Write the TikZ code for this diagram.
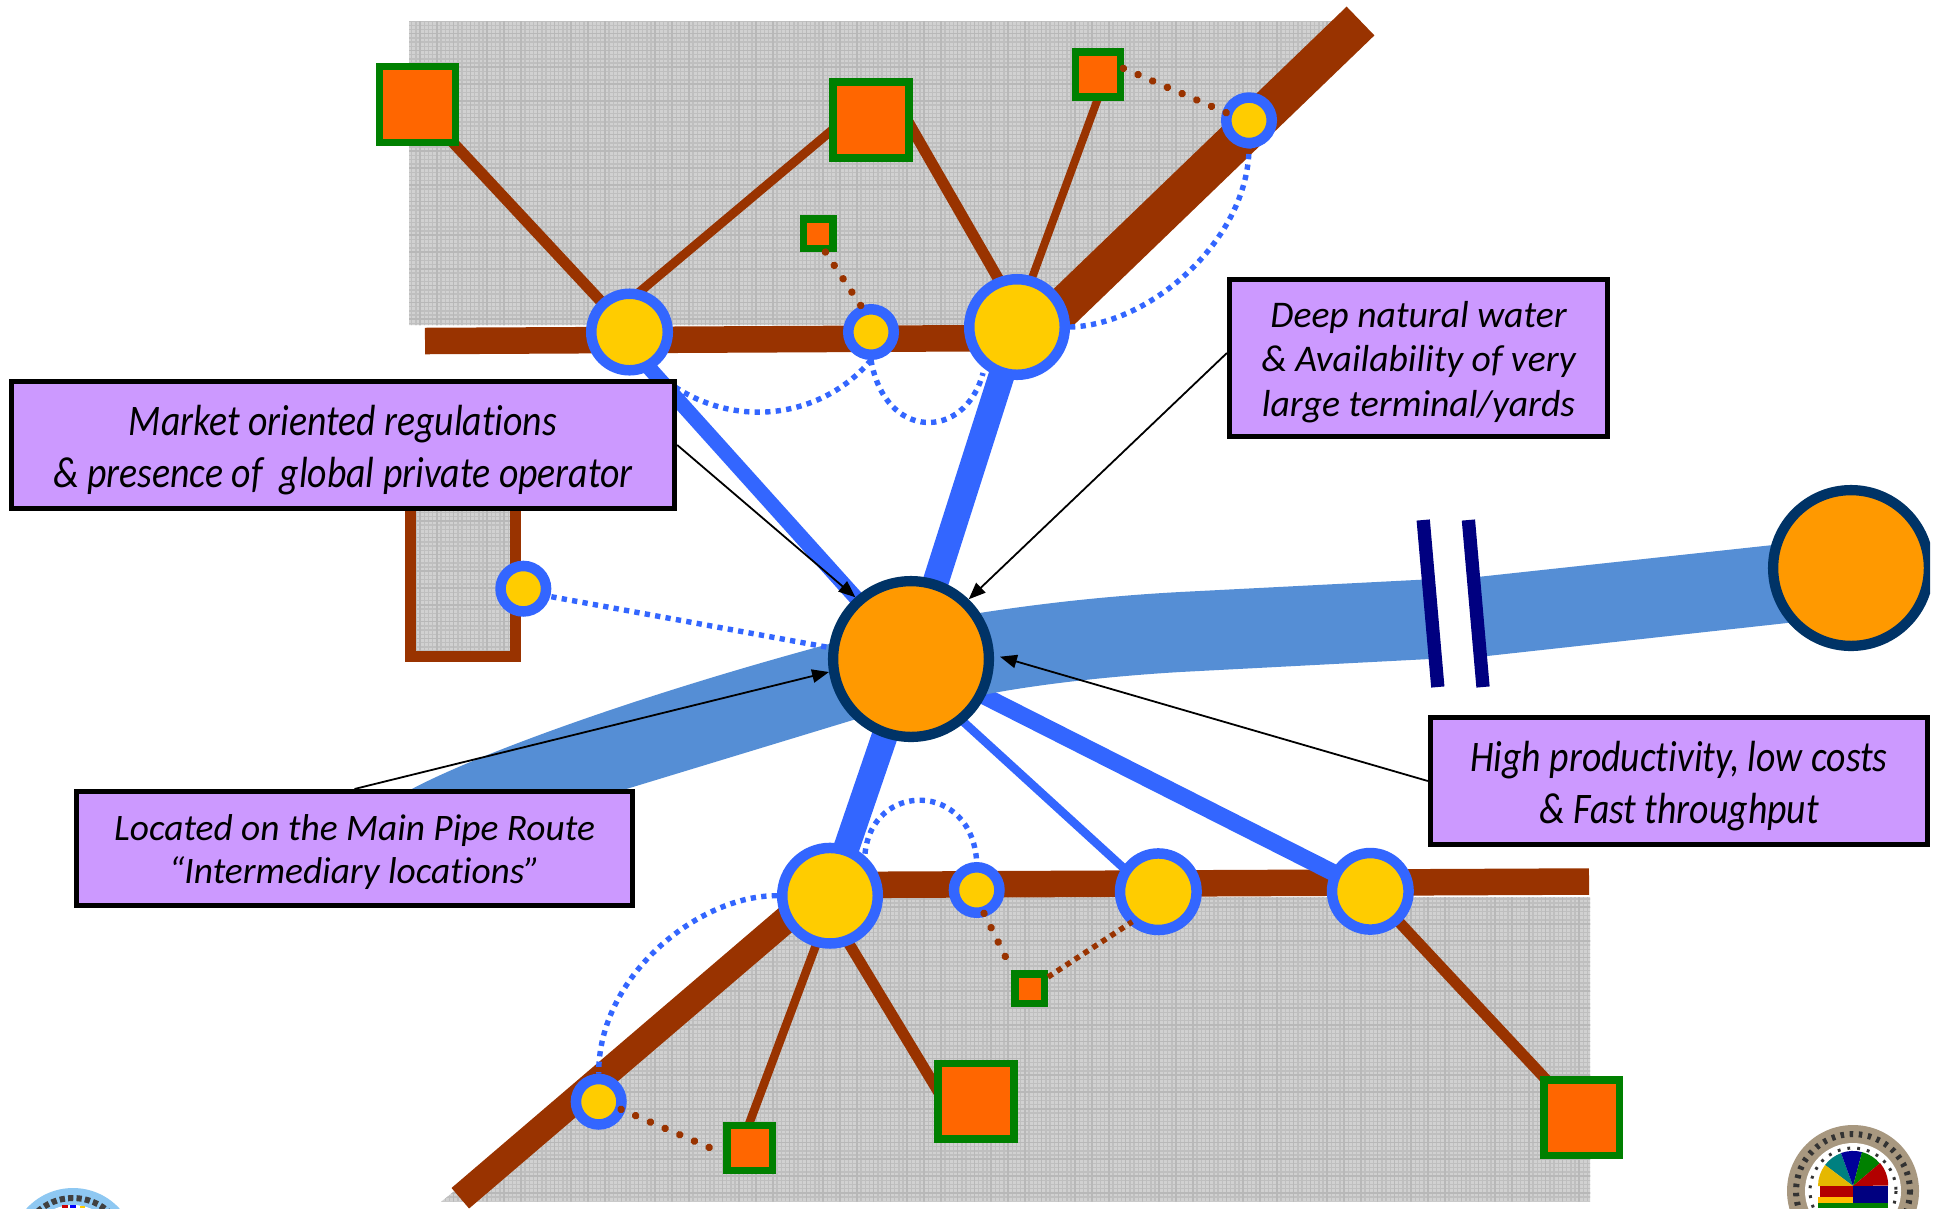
\documentclass[tikz,border=0pt]{standalone}
\usepackage{fontspec}
\usepackage{graphicx}
\setmainfont{Carlito}[Ligatures=CommonOff]
\usetikzlibrary{arrows.meta,calc}
\newcommand{\cnd}[1]{\scalebox{0.865}[1]{#1}}
\definecolor{brn}{HTML}{993300}
\definecolor{lnk}{HTML}{3366FF}
\definecolor{grn}{HTML}{008000}
\definecolor{sqf}{HTML}{FF6600}
\definecolor{yel}{HTML}{FFCC00}
\definecolor{hubf}{HTML}{FF9900}
\definecolor{hubl}{HTML}{003366}
\definecolor{pipe}{HTML}{558ED5}
\definecolor{lav}{HTML}{CC99FF}
\definecolor{brk}{HTML}{000080}
\definecolor{tan}{HTML}{A89880}
\definecolor{sky}{HTML}{8EC8F2}
\tikzset{
  w/.style={line width=#1*0.28453pt},
  hub/.style={circle,inner sep=0pt,fill=hubf,draw=hubl,w=10.3,minimum size=155.7*0.28453pt},
  bigc/.style={circle,inner sep=0pt,fill=yel,draw=lnk,w=10.5,minimum size=95.5*0.28453pt},
  midc/.style={circle,inner sep=0pt,fill=yel,draw=lnk,w=10.5,minimum size=76.5*0.28453pt},
  smlc/.style={circle,inner sep=0pt,fill=yel,draw=lnk,w=10.5,minimum size=45.5*0.28453pt},
  sqbig/.style={rectangle,inner sep=0pt,fill=sqf,draw=grn,w=7.5,minimum size=75.5*0.28453pt},
  sqmed/.style={rectangle,inner sep=0pt,fill=sqf,draw=grn,w=7.5,minimum size=45.2*0.28453pt},
  sqsml/.style={rectangle,inner sep=0pt,fill=sqf,draw=grn,w=7.5,minimum size=29.5*0.28453pt},
  road/.style={draw=brn,line cap=butt},
  lk/.style={draw=brn,line cap=butt},
  blk/.style={draw=lnk,line cap=butt},
  bdot/.style={draw=lnk,w=5.4,dash pattern=on 1.5pt off 1.5pt},
  rdot/.style={draw=brn,w=7.5,line cap=round,dash pattern=on 0.01pt off 4.54pt},
  qdot/.style={draw=brn,w=5.5,dash pattern=on 1.56pt off 1.48pt},
  callout/.style={rectangle,fill=lav,draw=black,w=5,inner sep=0pt},
  ctext/.style={inner sep=0pt,align=center,text=black},
  ptr/.style={draw=black,w=1.8,-{Triangle[length=4.8pt,width=3.8pt]}},
}
\begin{document}
\begin{tikzpicture}[x=0.01cm,y=-0.01cm]
\useasboundingbox (0,0) rectangle (1940,1208);
\fill[white] (0,0) rectangle (1940,1208);
\begin{scope}
\clip (0,0) rectangle (1940,1208);
% gray land
\begin{scope}
\clip (409,21) -- (1352,21) -- (1060,310) -- (1014,325) -- (409,325) -- cycle
      (441,1201.7) -- (830,897) -- (1590,897) -- (1590,1201.7) -- cycle
      (410,505) rectangle (516,656);
\fill[fill=black!18] (400,0) rectangle (1600,1208);
\begin{scope}[y=0.01cm]
\draw[black!25,w=1.4,step=4.2] (400,-1208) grid (1600,0);
\draw[black!28,w=1.5,step=16.8] (400,-1208) grid (1600,0);
\end{scope}
\end{scope}
\draw[brn,w=10.5] (515.6,500) -- (515.6,656.4) -- (410.3,656.4) -- (410.3,500);
% anchor points of the network
\path
  (911,659) coordinate (m)
  (629.5,332) coordinate (cL)
  (871,332) coordinate (cS)
  (1017,327) coordinate (cB)
  (830,895.7) coordinate (cBL)
  (1158.3,891.7) coordinate (cM)
  (1370.3,891.3) coordinate (cR)
  (417.5,104.5) coordinate (pA)
  (871,120) coordinate (pB)
  (1098,74.5) coordinate (pD)
  (976,1101) coordinate (pE)
  (1581.7,1117.7) coordinate (pF)
  (749.7,1148) coordinate (pG);
% roads
\draw[road,w=26.5] (425,341) -- (1020,338);
\draw[road,w=40] (1360.5,21) -- (1017,352);
\draw[road,w=26.5] (830,885) -- (1589,881.5);
\draw[road,w=27] (460.3,1198.2) -- (830,882);
% blue links (under the pipe)
\draw[blk,w=15] ($(cL)+(0,14)$) -- (m);
\draw[blk,w=26] (cB) -- (m);
\draw[blk,w=26] (cBL) -- (m);
\draw[blk,w=8.5] ($(m)+(0,15)$) -- ($(cM)+(0,8)$);
\draw[blk,w=17] (m) -- (cR);
% pipe
\fill[pipe] (410,790) .. controls (465,760) and (620,700) .. (840,641)
  .. controls (900,625) and (1030,600) .. (1180,592)
  -- (1480,576.7) -- (1773,545) -- (1860,540) -- (1860,612) -- (1787,623) -- (1487,656)
  -- (1180,672) .. controls (1080,678) and (1000,690) .. (960,700)
  -- (853,720) -- (623,790) -- cycle;
% break in the pipe
\fill[white] (1423.2,520) -- (1468.4,520) -- (1483,687) -- (1437.8,687) -- cycle;
\draw[brk,w=13.3] (1423.2,520) -- (1437.8,687);
\draw[brk,w=13.3] (1468.4,520) -- (1483,687);
% thin brown links
\draw[lk,w=11] (pA) -- (cL);
\draw[lk,w=9] ($(cL)+(4,-35)$) -- ($(pB)+(-15,-10)$);
\draw[lk,w=11] ($(pB)+(36,0)$) -- ($(cB)+(9,0)$);
\draw[lk,w=8] ($(cB)+(-3,0)$) -- ($(pD)+(8.7,0)$);
\draw[lk,w=8.5] ($(cBL)+(4.5,0)$) -- ($(pG)+(-9.7,0)$);
\draw[lk,w=11] ($(cBL)+(-10,0)$) -- ($(pE)+(-32,0)$);
\draw[lk,w=11] (cR) -- (pF);
% nodes
\node[hub] (main) at (m) {};
\begin{scope}
\clip (0,0) rectangle (1930,1208);
\node[hub] (far) at (1851,568) {};
\end{scope}
\node[sqbig] (sqA) at (pA) {};
\node[sqbig] (sqB) at (pB) {};
\node[sqsml] (sqC) at (818,233.5) {};
\node[sqmed] (sqD) at (pD) {};
\node[sqbig] (sqE) at (pE) {};
\node[sqbig] (sqF) at (pF) {};
\node[sqmed] (sqG) at (pG) {};
\node[sqsml] (sqH) at (1029.5,988.5) {};
\node[bigc] (nB) at (cB) {};
\node[bigc] (nBL) at (cBL) {};
\node[midc] (nL) at (cL) {};
\node[midc] (nM) at (cM) {};
\node[midc] (nR) at (cR) {};
\node[smlc] (nS) at (cS) {};
\node[smlc] (nT) at (1249,120.3) {};
\node[smlc] (nI) at (523.3,588.7) {};
\node[smlc] (nV) at (598.7,1101.7) {};
\node[smlc] (nW) at (976.7,890) {};
% blue dotted curves
\draw[bdot] (nS.south) .. controls (825,415) and (740,432) .. ($(cL)+(41,52)$);
\draw[bdot] (nS.south) .. controls (885,441) and (965,441) .. ($(cB)+(-34,46)$);
\draw[bdot] (nB.east) .. controls (1150,325) and (1248,240) .. (nT.south);
\draw[bdot] ($(cBL)+(35,-42)$) .. controls (872,781) and (972,781) .. (nW.north);
\draw[bdot] (nBL.west) .. controls (700,895) and (598,975) .. (nV.north);
\draw[bdot] ($(nI.east)+(0,8)$) -- (main.172);
% brown dotted links
\draw[rdot] (sqC.-63) ++(-2,0) -- ($(nS)+(-8,-23)$);
\draw[rdot] ($(sqD)+(25.3,-6.2)$) -- ($(nT)+(-22.7,-7.6)$);
\draw[rdot] ($(nV)+(22.3,7.6)$) -- ($(sqG)+(-26,5.7)$);
\draw[rdot] ($(nW)+(7.3,23.3)$) -- ($(sqH)+(-17.5,-18.5)$);
\draw[qdot] ($(sqH)+(18.5,-11.5)$) -- ($(nM)+(-26,30)$);
% callouts
\node[callout,minimum width=663*0.28453pt,minimum height=127*0.28453pt] (mkt) at (343,445) {};
\node[ctext,font=\fontsize{12.4pt}{14.8pt}\selectfont\itshape] (mktt) at (343,450)
  {\cnd{Market oriented regulations}\\\cnd{\& presence of\ \ global private operator}};
\node[callout,minimum width=378*0.28453pt,minimum height=157*0.28453pt] (deep) at (1418.5,358) {};
\node[ctext,font=\fontsize{10.7pt}{12.6pt}\selectfont\itshape] (deept) at (1418.5,362)
  {Deep natural water\\\& Availability of very\\large terminal/yards};
\node[callout,minimum width=556*0.28453pt,minimum height=114*0.28453pt] (loc) at (354.5,848.5) {};
\node[ctext,font=\fontsize{10.63pt}{12.4pt}\selectfont\itshape] (loct) at (354.5,852)
  {Located on the Main Pipe Route\\“Intermediary locations”};
\node[callout,minimum width=497*0.28453pt,minimum height=127*0.28453pt] (high) at (1679,781) {};
\node[ctext,font=\fontsize{12.4pt}{14.8pt}\selectfont\itshape] (hight) at (1679,786)
  {\cnd{High productivity, low costs}\\\cnd{\& Fast throughput}};
% pointers
\draw[ptr] (mkt.east) -- (main.132);
\draw[ptr] ($(deep.west)+(0,-5)$) -- (main.46);
\draw[ptr] (loc.north) -- (main.189);
\draw[ptr] (high.west) -- ($(m)+(89,-2.3)$);
% left emblem
\fill[sky] (73,1251) circle (63);
\draw[black!75,w=6,dash pattern=on 1.5pt off 0.9pt] (73,1251) circle (53);
\fill[white] (73,1251) circle (46);
\fill[red!80!black] (62,1205) rectangle (68,1208);
\fill[blue] (70,1205) rectangle (76,1208);
\fill[yel] (80,1206) rectangle (85,1208);
% right emblem
\fill[tan] (1853,1191) circle (66);
\draw[black!80,w=6,dash pattern=on 1pt off 1.6pt] (1853,1191) circle (57);
\fill[white] (1853,1191) circle (48);
\draw[black!80,w=3,dash pattern=on 0.8pt off 2pt] (1853,1191) circle (43);
\fill[teal] (1853,1186) -- (1825,1165) arc[start angle=217,end angle=250,radius=35] -- cycle;
\fill[blue!60!black] (1853,1186) -- (1841,1153) arc[start angle=250,end angle=285,radius=35] -- cycle;
\fill[green!50!black] (1853,1186) -- (1862,1152) arc[start angle=285,end angle=320,radius=35] -- cycle;
\fill[red!70!black] (1853,1186) -- (1880,1163) arc[start angle=320,end angle=360,radius=35] -- cycle;
\fill[yel!90!black] (1853,1186) -- (1818,1186) arc[start angle=180,end angle=217,radius=35] -- cycle;
\fill[blue!50!black] (1853,1186) rectangle (1888,1208);
\fill[red!70!black] (1820,1186) rectangle (1853,1197);
\fill[yel!80!orange] (1818,1197) rectangle (1853,1203);
\fill[green!50!black] (1818,1203) rectangle (1888,1208);
\end{scope}
\end{tikzpicture}
\end{document}
